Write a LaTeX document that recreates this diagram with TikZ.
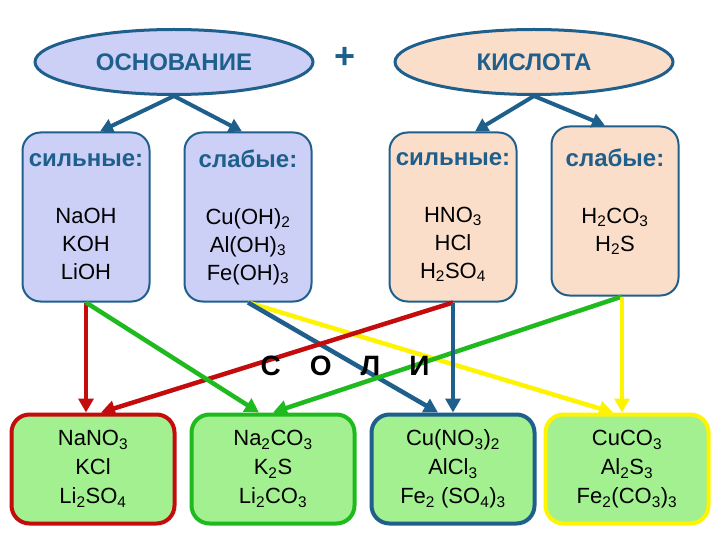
\documentclass[tikz,border=0pt]{standalone}
\usepackage{fontspec}
\setmainfont{Liberation Sans}
\usetikzlibrary{shapes.geometric,arrows.meta}
\definecolor{edgeblue}{RGB}{31,95,140}
\definecolor{baselav}{RGB}{204,208,247}
\definecolor{acidpeach}{RGB}{250,222,202}
\definecolor{saltgreen}{RGB}{162,240,144}
\definecolor{linered}{RGB}{196,12,12}
\definecolor{linegreen}{RGB}{30,186,30}
\definecolor{lineyellow}{RGB}{255,244,0}
\newcommand{\ind}[1]{\textsubscript{#1}}
\newcommand{\head}[1]{{\fontsize{24}{28}\selectfont\bfseries\color{edgeblue}#1}}
\begin{document}
\begin{tikzpicture}[x=1pt,y=-1pt,
    oval/.style={ellipse,draw=edgeblue,line width=3pt,minimum width=278pt,minimum height=65pt,inner sep=0pt,text=edgeblue,font=\fontsize{24}{28}\selectfont\bfseries},
    kind/.style={draw=edgeblue,line width=2pt,rounded corners=18pt,minimum width=127pt,minimum height=169pt,inner sep=0pt,align=center,font=\fontsize{22}{28}\selectfont},
    salt/.style={line width=4pt,rounded corners=18pt,fill=saltgreen,minimum width=163pt,minimum height=109pt,inner sep=0pt,align=center,font=\fontsize{22}{29}\selectfont},
    gen/.style={edgeblue,line width=4pt,-{Triangle[length=13pt,width=14pt]}},
    pair/.style={line width=4.5pt,-{Triangle[length=14pt,width=15pt]}}]
    \fill[white](0,0) rectangle (720,540);
    \useasboundingbox (0,0) rectangle (720,540);
    \node[oval,fill=baselav] (e1) at (174,62) {ОСНОВАНИЕ};
    \node[oval,fill=acidpeach] (e2) at (534,62) {КИСЛОТА};
    \node[text=edgeblue,font=\fontsize{36}{36}\selectfont\bfseries] (plus) at (345,58) {+};
    \node[kind,fill=baselav] (b1) at (86,217) {\head{сильные:}\\[29pt]NaOH\\KOH\\LiOH};
    \node[kind,fill=baselav] (b2) at (248,217) {\head{слабые:}\\[29pt]Cu(OH)\ind{2}\\Al(OH)\ind{3}\\Fe(OH)\ind{3}};
    \node[kind,fill=acidpeach] (b3) at (453,217) {\head{сильные:}\\[29pt]HNO\ind{3}\\HCl\\H\ind{2}SO\ind{4}};
    \node[kind,fill=acidpeach] (b4) at (615,211) {\head{слабые:}\\[29pt]H\ind{2}CO\ind{3}\\H\ind{2}S\\[-14pt]\strut};
    \node[salt,draw=linered] (sA) at (93,469) {NaNO\ind{3}\\KCl\\Li\ind{2}SO\ind{4}};
    \node[salt,draw=linegreen] (sB) at (273,469) {Na\ind{2}CO\ind{3}\\K\ind{2}S\\Li\ind{2}CO\ind{3}};
    \node[salt,draw=edgeblue] (sC) at (453,469) {Cu(NO\ind{3})\ind{2}\\AlCl\ind{3}\\Fe\ind{2} (SO\ind{4})\ind{3}};
    \node[salt,draw=lineyellow] (sD) at (627,469) {CuCO\ind{3}\\Al\ind{2}S\ind{3}\\Fe\ind{2}(CO\ind{3})\ind{3}};
    \coordinate (w4) at ([xshift=7pt]b4.south);
    \draw[gen](e1.south)--([xshift=14pt]b1.north);
    \draw[gen](e1.south)--([xshift=-6pt]b2.north);
    \draw[gen](e2.south)--([xshift=22pt]b3.north);
    \draw[gen](e2.south)--([xshift=-10pt]b4.north);
    \draw[pair,lineyellow](b2.south)--([xshift=-14pt]sD.north);
    \draw[pair,edgeblue](b2.south)--([xshift=-15pt]sC.north);
    \draw[pair,linered](b3.south)--([xshift=8pt]sA.north);
    \draw[pair,linered](b1.south)--(sA.north-|b1.south);
    \draw[pair,linegreen](b1.south)--([xshift=-14pt]sB.north);
    \draw[pair,linegreen](w4)--(sB.north);
    \draw[pair,edgeblue](b3.south)--(sC.north);
    \draw[pair,lineyellow](w4)--(sD.north-|w4);
    \node[font=\fontsize{28}{28}\selectfont\bfseries] (soli) at (345,366) {С\hspace{29pt}О\hspace{29pt}Л\hspace{29pt}И};
\end{tikzpicture}
\end{document}
